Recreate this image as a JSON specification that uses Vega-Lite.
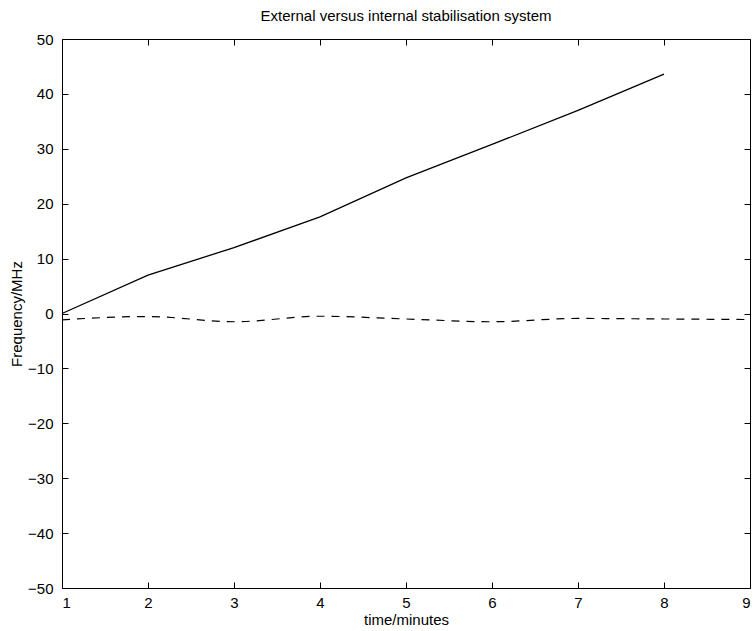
{
  "$schema": "https://vega.github.io/schema/vega-lite/v6.json",
  "width": 688,
  "height": 549,
  "autosize": {"type": "none"},
  "padding": {"left": 62, "top": 39, "right": 5, "bottom": 43},
  "background": "white",
  "title": {"text": "External versus internal stabilisation system", "font": "Liberation Sans", "fontSize": 15, "fontWeight": "normal", "color": "black", "offset": 8},
  "config": {
    "view": {"stroke": null},
    "axis": {"grid": false, "domainColor": "black", "tickColor": "black", "labelColor": "black", "titleColor": "black", "labelFont": "Liberation Sans", "titleFont": "Liberation Sans", "labelFontSize": 15, "titleFontSize": 15, "titleFontWeight": "normal", "tickSize": -6, "domainWidth": 1, "tickWidth": 1}
  },
  "datasets": {
    "ext": [
      {"t": 1, "f": 0.0}, {"t": 2, "f": 7.0}, {"t": 3, "f": 12.0}, {"t": 4, "f": 17.6},
      {"t": 5, "f": 24.7}, {"t": 6, "f": 30.8}, {"t": 7, "f": 37.0}, {"t": 8, "f": 43.6}
    ],
    "int": [
      {"t": 1, "f": -1.15}, {"t": 2, "f": -0.55}, {"t": 3, "f": -1.5}, {"t": 4, "f": -0.5},
      {"t": 5, "f": -1.0}, {"t": 6, "f": -1.5}, {"t": 7, "f": -0.9}, {"t": 8, "f": -1.0}, {"t": 9, "f": -1.1}
    ]
  },
  "layer": [
    {
      "data": {"name": "ext"},
      "mark": {"type": "line", "color": "black", "strokeWidth": 1.3, "interpolate": "linear"},
      "encoding": {
        "x": {"field": "t", "type": "quantitative", "scale": {"domain": [1, 9], "nice": false, "zero": false},
              "axis": {"title": "time/minutes", "orient": "bottom", "values": [1,2,3,4,5,6,7,8,9], "labelPadding": 13, "titlePadding": 2}},
        "y": {"field": "f", "type": "quantitative", "scale": {"domain": [-50, 50], "nice": false},
              "axis": {"title": "Frequency/MHz", "orient": "left", "values": [-50,-40,-30,-20,-10,0,10,20,30,40,50], "labelPadding": 15, "titlePadding": 3}}
      }
    },
    {
      "data": {"name": "int"},
      "mark": {"type": "line", "color": "black", "strokeWidth": 1.2, "strokeDash": [8, 7], "interpolate": "monotone"},
      "encoding": {
        "x": {"field": "t", "type": "quantitative",
              "axis": {"title": null, "orient": "top", "values": [1,2,3,4,5,6,7,8,9], "labels": false}},
        "y": {"field": "f", "type": "quantitative",
              "axis": {"title": null, "orient": "right", "values": [-50,-40,-30,-20,-10,0,10,20,30,40,50], "labels": false}}
      }
    }
  ],
  "resolve": {"axis": {"x": "independent", "y": "independent"}}
}
